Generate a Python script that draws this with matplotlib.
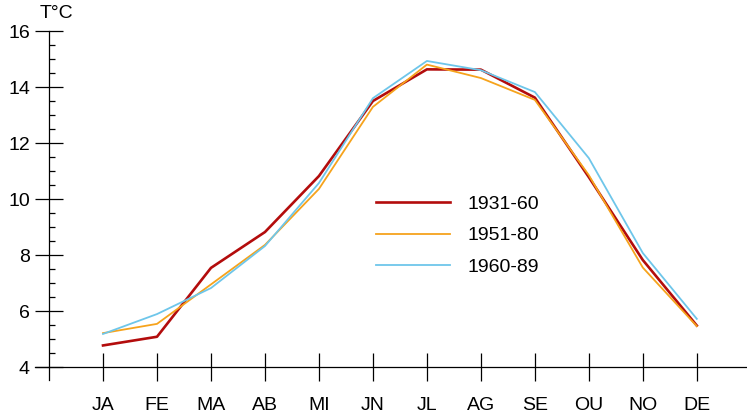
import matplotlib.pyplot as plt
from matplotlib.ticker import MultipleLocator

plt.rcParams['font.family'] = ['Liberation Sans', 'DejaVu Sans']

# datos
meses = ["JA", "FE", "MA", "AB", "MI", "JN", "JL", "AG", "SE", "OU", "NO", "DE"]
t_1931_60 = [4.77, 5.08, 7.54, 8.82, 10.82, 13.5, 14.63, 14.62, 13.62, 10.78, 7.82, 5.48]
t_1951_80 = [5.21, 5.54, 6.95, 8.36, 10.36, 13.29, 14.8, 14.32, 13.54, 10.85, 7.55, 5.46]
t_1960_89 = [5.18, 5.89, 6.82, 8.32, 10.57, 13.6, 14.93, 14.6, 13.82, 11.46, 8.07, 5.72]
periodos = ["1931-60", "1951-80", "1960-89"]
colores = ["#b30c0c", "#f6a31c", "#6ec6ea"]

fig = plt.figure(figsize=(7.47, 4.19), dpi=100)
# ejes desde x=35 px hasta el borde, y desde 380 px hasta 31 px
ax = fig.add_axes([35 / 747, 39 / 419, 1 - 35 / 747, 349 / 419])

x = list(range(len(meses)))
ax.plot(x, t_1931_60, color=colores[0], lw=1.9, label=periodos[0])
ax.plot(x, t_1951_80, color=colores[1], lw=1.3, label=periodos[1])
ax.plot(x, t_1960_89, color=colores[2], lw=1.3, label=periodos[2])

ax.set_xlim(-1.26, 11.93)
ax.set_ylim(16 - 349 / 28, 16)
ax.set_xticks(x)
ax.set_xticklabels(meses)
ax.yaxis.set_major_locator(MultipleLocator(2))
ax.yaxis.set_minor_locator(MultipleLocator(0.5))

for lado in ["top", "right"]:
    ax.spines[lado].set_visible(False)
ax.spines["left"].set_position(("data", -1))
ax.spines["bottom"].set_position(("data", 4))
ax.spines["left"].set_linewidth(0.9)
ax.spines["bottom"].set_linewidth(0.9)

ax.tick_params(axis="x", which="major", direction="inout", length=19.5, width=0.9,
               pad=12, labelsize=14)
ax.tick_params(axis="y", which="major", direction="inout", length=19.5, width=0.9,
               pad=4, labelsize=14)
ax.tick_params(axis="y", which="minor", direction="in", length=4.5, width=0.9)

fig.text(40 / 747, 1 - 14 / 419, "T°C", fontsize=14, va="center", ha="left")

ax.legend(loc="upper left", bbox_to_anchor=(376 / 747, 1 - 195 / 419),
          bbox_transform=fig.transFigure, frameon=False, fontsize=14,
          handlelength=3.8, handletextpad=0.88, labelspacing=0.73,
          borderpad=0, borderaxespad=0)

fig.savefig("out.png", dpi=100)
